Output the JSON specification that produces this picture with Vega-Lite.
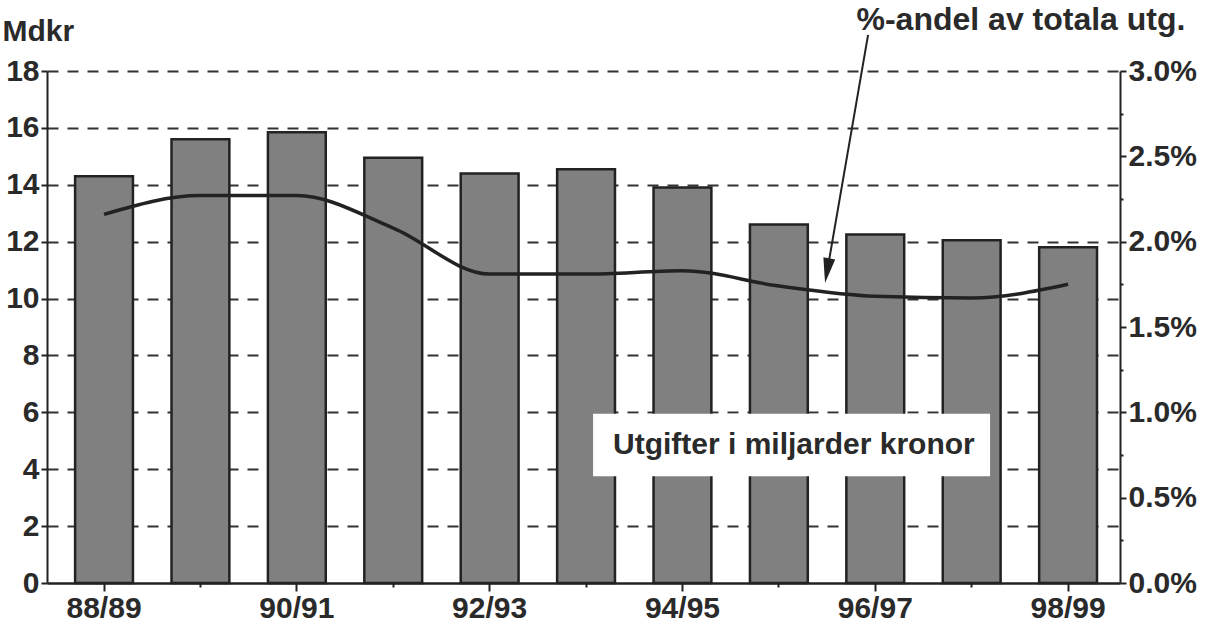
{
  "$schema": "https://vega.github.io/schema/vega-lite/v6.json",
  "width": 1073,
  "height": 512,
  "autosize": {"type": "none"},
  "padding": {"left": 47, "top": 71, "right": 87, "bottom": 48},
  "background": "white",
  "config": {
    "view": {"stroke": null},
    "font": "Liberation Sans",
    "axis": {
      "labelFont": "Liberation Sans",
      "labelFontSize": 30,
      "labelFontWeight": "bold",
      "labelColor": "#2a2a2a",
      "titleFont": "Liberation Sans",
      "titleFontSize": 30,
      "titleFontWeight": "bold",
      "titleColor": "#2a2a2a",
      "domainColor": "#222",
      "domainWidth": 2,
      "tickColor": "#222",
      "tickWidth": 2,
      "grid": false
    }
  },
  "datasets": {
    "main": [
      {"year": "88/89", "mdkr": 14.3, "pct": 0.0216},
      {"year": "89/90", "mdkr": 15.6, "pct": 0.0227},
      {"year": "90/91", "mdkr": 15.85, "pct": 0.0227},
      {"year": "91/92", "mdkr": 14.95, "pct": 0.0208},
      {"year": "92/93", "mdkr": 14.4, "pct": 0.0181},
      {"year": "93/94", "mdkr": 14.55, "pct": 0.0181},
      {"year": "94/95", "mdkr": 13.9, "pct": 0.0183},
      {"year": "95/96", "mdkr": 12.6, "pct": 0.0174},
      {"year": "96/97", "mdkr": 12.25, "pct": 0.0168},
      {"year": "97/98", "mdkr": 12.05, "pct": 0.0167},
      {"year": "98/99", "mdkr": 11.8, "pct": 0.0175}
    ],
    "box": [
      {"xcat": "95/96", "ylo": 3.75, "yhi": 5.95, "ty": 4.85, "label": "Utgifter i miljarder kronor"}
    ],
    "arrow": [
      {"xcat": "96/97", "ystart": 19.27, "yend": 11.0, "yhead": 10.98}
    ]
  },
  "layer": [
    {
      "layer": [
        {
          "data": {"name": "main"},
          "mark": {"type": "bar", "fill": "#808080", "stroke": "#222", "strokeWidth": 2.5},
          "encoding": {
            "x": {
              "field": "year",
              "type": "nominal",
              "sort": null,
              "scale": {
                "domain": ["88/89", "89/90", "90/91", "91/92", "92/93", "93/94", "94/95", "95/96", "96/97", "97/98", "98/99"],
                "paddingInner": 0.4,
                "paddingOuter": 0.265,
                "align": 0.55
              },
              "axis": {
                "title": null,
                "labelAngle": 0,
                "domainWidth": 2.5,
                "labelPadding": 2,
                "labelExpr": "indexof(['88/89','90/91','92/93','94/95','96/97','98/99'], datum.label) >= 0 ? datum.label : ''",
                "tickSize": {"condition": {"test": "indexof(['88/89','90/91','92/93','94/95','96/97','98/99'], datum.value) >= 0", "value": 8}, "value": 4}
              }
            },
            "y": {
              "field": "mdkr",
              "type": "quantitative",
              "scale": {"domain": [0, 18], "nice": false},
              "axis": {
                "values": [0, 1, 2, 3, 4, 5, 6, 7, 8, 9, 10, 11, 12, 13, 14, 15, 16, 17, 18],
                "title": "Mdkr",
                "titleAngle": 0,
                "titleX": -45,
                "titleY": -31,
                "titleAlign": "left",
                "titleBaseline": "alphabetic",
                "labelPadding": 2,
                "labelExpr": "datum.value % 2 == 0 ? datum.label : ''",
                "tickSize": {"condition": {"test": "datum.value % 2 == 0", "value": 6}, "value": 3},
                "grid": true,
                "gridDash": [11, 9],
                "gridColor": "#333",
                "gridWidth": 2,
                "gridOpacity": {"condition": {"test": "datum.value % 2 == 0 && datum.value > 0", "value": 1}, "value": 0}
              }
            }
          }
        },
        {
          "data": {"name": "box"},
          "mark": {"type": "bar", "fill": "white", "width": 397, "xOffset": 12.7},
          "encoding": {
            "x": {"field": "xcat", "type": "nominal"},
            "y": {"field": "ylo", "type": "quantitative"},
            "y2": {"field": "yhi"}
          }
        },
        {
          "data": {"name": "box"},
          "mark": {"type": "text", "fontSize": 30, "fontWeight": "bold", "color": "#2a2a2a", "font": "Liberation Sans", "xOffset": 15, "baseline": "middle"},
          "encoding": {
            "x": {"field": "xcat", "type": "nominal"},
            "y": {"field": "ty", "type": "quantitative"},
            "text": {"field": "label"}
          }
        },
        {
          "data": {"name": "arrow"},
          "mark": {"type": "rule", "stroke": "#222", "strokeWidth": 2, "xOffset": -7.2, "x2Offset": -47.9},
          "encoding": {
            "x": {"field": "xcat", "type": "nominal"},
            "x2": {"field": "xcat"},
            "y": {"field": "ystart", "type": "quantitative"},
            "y2": {"field": "yend"}
          }
        },
        {
          "data": {"name": "arrow"},
          "mark": {"type": "point", "shape": "M-0.48,-1L0,1L0.48,-1Z", "size": 625, "filled": true, "fill": "#222", "stroke": null, "opacity": 1, "angle": 9.8, "xOffset": -48.1},
          "encoding": {
            "x": {"field": "xcat", "type": "nominal"},
            "y": {"field": "yhead", "type": "quantitative"}
          }
        }
      ]
    },
    {
      "data": {"name": "main"},
      "mark": {"type": "line", "stroke": "#222", "strokeWidth": 3.5, "interpolate": "monotone"},
      "encoding": {
        "x": {"field": "year", "type": "nominal", "sort": null},
        "y": {
          "field": "pct",
          "type": "quantitative",
          "scale": {"domain": [0, 0.03], "nice": false},
          "axis": {
            "orient": "right",
            "values": [0, 0.0025, 0.005, 0.0075, 0.01, 0.0125, 0.015, 0.0175, 0.02, 0.0225, 0.025, 0.0275, 0.03],
            "format": ".1%",
            "labelPadding": 2,
            "labelExpr": "abs(datum.value*200 - round(datum.value*200)) < 0.001 ? datum.label : ''",
            "tickSize": {"condition": {"test": "abs(datum.value*200 - round(datum.value*200)) < 0.001", "value": 6}, "value": 3},
            "title": "%-andel av totala utg.",
            "titleFontSize": 32,
            "titleAngle": 0,
            "titleX": -264,
            "titleY": -42,
            "titleAlign": "left",
            "titleBaseline": "alphabetic"
          }
        }
      }
    }
  ],
  "resolve": {"scale": {"y": "independent"}}
}
